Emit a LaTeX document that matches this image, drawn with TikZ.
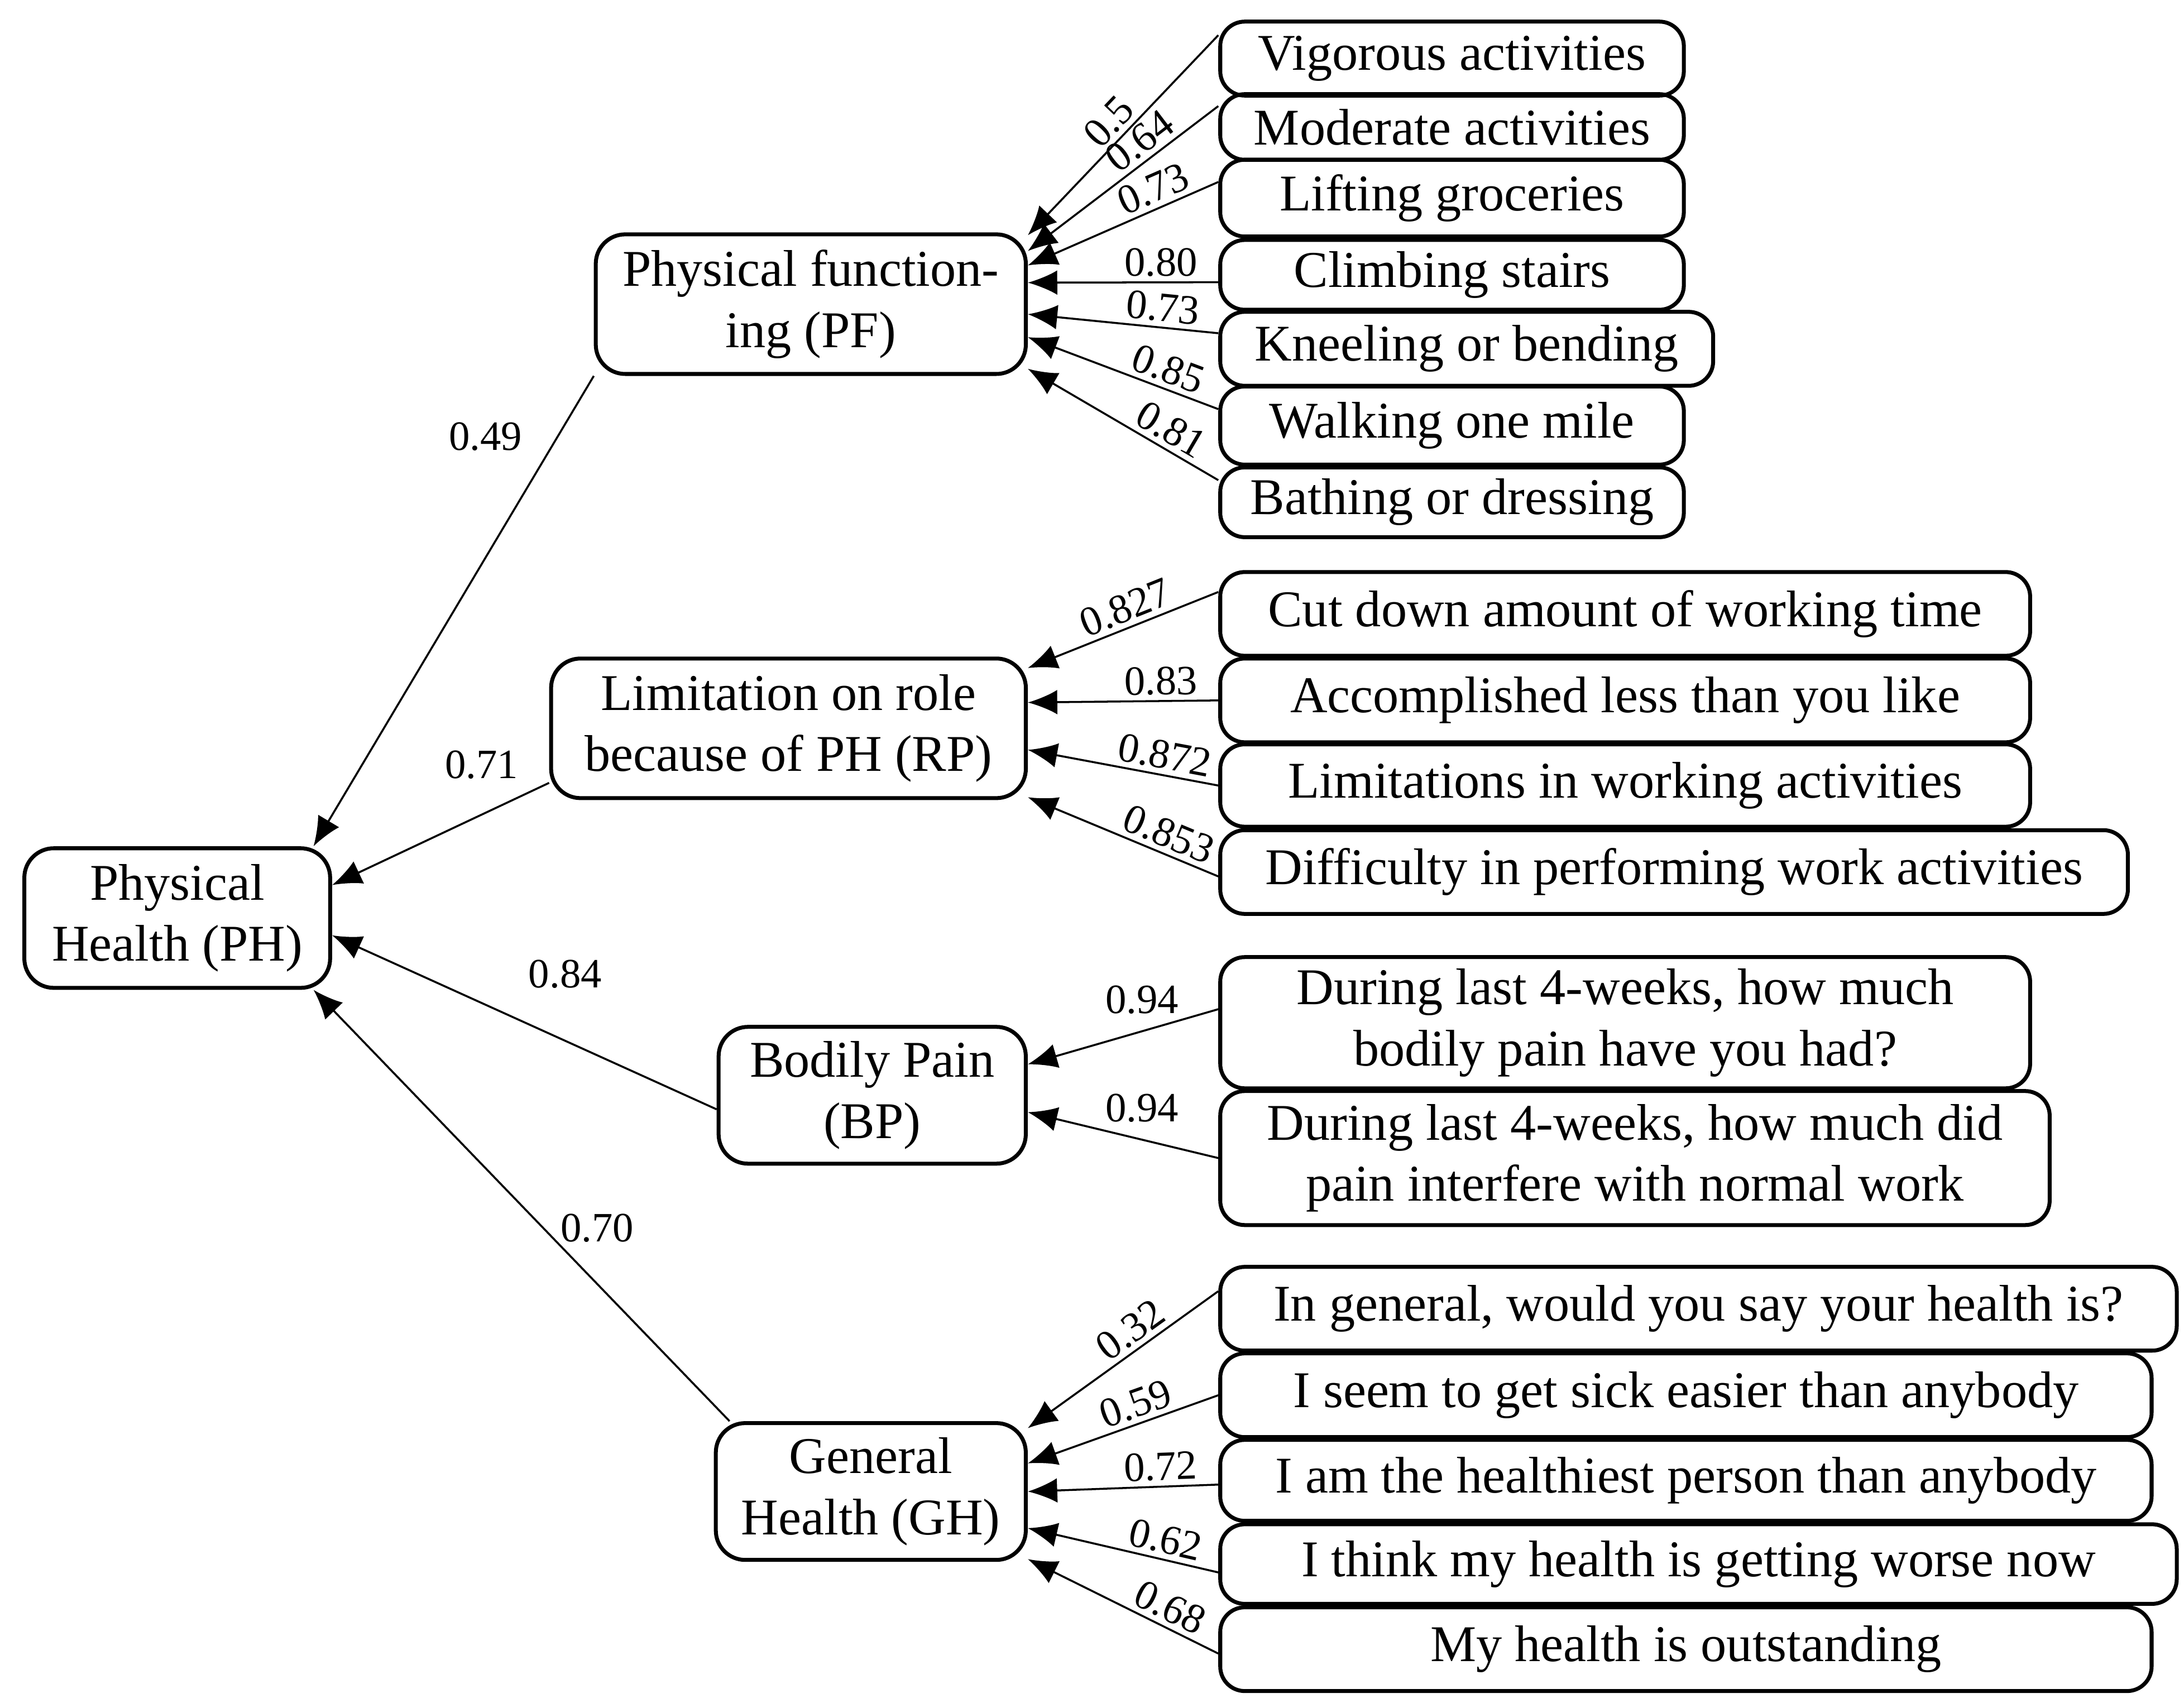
\documentclass[tikz,border=0pt]{standalone}
\usepackage{fontspec}
\setmainfont{Liberation Serif}
\usetikzlibrary{calc,arrows.meta}
\begin{document}
\begin{tikzpicture}[
    x = 0.01cm,
    y = -0.01cm,
    >={Latex[length=6pt,width=5pt]},
    factor/.style = {draw, thick, rounded corners=6pt, align=center,
              font=\fontsize{10.5}{12.5}\selectfont, inner sep=1pt},
    item/.style = {draw, thick, rounded corners=5pt, anchor=west, align=center,
              font=\fontsize{10.5}{12.5}\selectfont, inner sep=1pt},
    load/.style = {font=\fontsize{8.5}{10}\selectfont, sloped, above, inner sep=1pt},
    coef/.style = {font=\fontsize{8.5}{10}\selectfont},
    ]
\useasboundingbox (0,0) rectangle (1565,1224);

% factors
\node[factor, minimum width=2.19cm, minimum height=1cm] (PH) at (127,658) {Physical\\Health (PH)};
\node[factor, minimum width=3.08cm, minimum height=1cm] (PF) at (581,218) {Physical function-\\ing (PF)};
\node[factor, minimum width=3.4cm, minimum height=1cm] (RP) at (565,522) {Limitation on role\\because of PH (RP)};
\node[factor, minimum width=2.2cm, minimum height=0.98cm] (BP) at (625,785) {Bodily Pain\\(BP)};
\node[factor, minimum width=2.22cm, minimum height=0.98cm] (GH) at (624,1069) {General\\Health (GH)};

% items
\node[item, minimum width=3.32cm, minimum height=0.53cm] (pf1) at (873,42) {Vigorous activities};
\node[item, minimum width=3.32cm, minimum height=0.47cm] (pf2) at (873,91) {Moderate activities};
\node[item, minimum width=3.32cm, minimum height=0.55cm] (pf3) at (873,142) {Lifting groceries};
\node[item, minimum width=3.32cm, minimum height=0.5cm] (pf4) at (873,197) {Climbing stairs};
\node[item, minimum width=3.53cm, minimum height=0.53cm] (pf5) at (873,250) {Kneeling or bending};
\node[item, minimum width=3.32cm, minimum height=0.56cm] (pf6) at (873,305) {Walking one mile};
\node[item, minimum width=3.32cm, minimum height=0.5cm] (pf7) at (873,360) {Bathing or dressing};

\node[item, minimum width=5.8cm, minimum height=0.6cm] (rp1) at (873,440) {Cut down amount of working time};
\node[item, minimum width=5.8cm, minimum height=0.6cm] (rp2) at (873,502) {Accomplished less than you like};
\node[item, minimum width=5.8cm, minimum height=0.59cm] (rp3) at (873,563) {Limitations in working activities};
\node[item, minimum width=6.5cm, minimum height=0.6cm] (rp4) at (873,625) {Difficulty in performing work activities};

\node[item, minimum width=5.8cm, minimum height=0.94cm] (bp1) at (873,733) {During last 4-weeks, how much\\bodily pain have you had?};
\node[item, minimum width=5.94cm, minimum height=0.96cm] (bp2) at (873,830) {During last 4-weeks, how much did\\pain interfere with normal work};

\node[item, minimum width=6.85cm, minimum height=0.6cm] (gh1) at (873,938) {In general, would you say your health is?};
\node[item, minimum width=6.67cm, minimum height=0.6cm] (gh2) at (873,1000) {I seem to get sick easier than anybody};
\node[item, minimum width=6.67cm, minimum height=0.58cm] (gh3) at (873,1061) {I am the healthiest person than anybody};
\node[item, minimum width=6.85cm, minimum height=0.57cm] (gh4) at (873,1121) {I think my health is getting worse now};
\node[item, minimum width=6.67cm, minimum height=0.6cm] (gh5) at (873,1182) {My health is outstanding};

% second order
\draw[->] (PF.south west) -- ($(PH.north east)!0.06!(PH.north west)$);
\draw[->] ($(RP.north west)!0.88!(RP.south west)$) -- ($(PH.north east)!0.27!(PH.south east)$);
\draw[->] ($(BP.north west)!0.6!(BP.south west)$) -- ($(PH.north east)!0.62!(PH.south east)$);
\draw[->] ($(GH.north west)!0.05!(GH.north east)$) -- ($(PH.south east)!0.06!(PH.south west)$);
\node[coef] (c1) at (348,313) {0.49};
\node[coef] (c2) at (345,548) {0.71};
\node[coef] (c3) at (405,698) {0.84};
\node[coef] (c4) at (428,880) {0.70};

% physical functioning
\draw[->] ($(pf1.north west)!0.2!(pf1.south west)$) -- node[load, pos=0.5] {0.5} ($(PF.north east)!0.02!(PF.south east)$);
\draw[->] ($(pf2.north west)!0.2!(pf2.south west)$) -- node[load, pos=0.35] {0.64} ($(PF.north east)!0.13!(PF.south east)$);
\draw[->] ($(pf3.north west)!0.3!(pf3.south west)$) -- node[load, pos=0.3] {0.73} ($(PF.north east)!0.23!(PF.south east)$);
\draw[->] ($(pf4.north west)!0.6!(pf4.south west)$) -- node[load, pos=0.3] {0.80} ($(PF.north east)!0.35!(PF.south east)$);
\draw[->] ($(pf5.north west)!0.3!(pf5.south west)$) -- node[load, pos=0.3] {0.73} ($(PF.north east)!0.57!(PF.south east)$);
\draw[->] ($(pf6.north west)!0.3!(pf6.south west)$) -- node[load, pos=0.3] {0.85} ($(PF.north east)!0.73!(PF.south east)$);
\draw[->] ($(pf7.north west)!0.2!(pf7.south west)$) -- node[load, pos=0.3] {0.81} ($(PF.north east)!0.95!(PF.south east)$);

% role physical
\draw[->] ($(rp1.north west)!0.25!(rp1.south west)$) -- node[load, pos=0.45] {0.827} ($(RP.north east)!0.08!(RP.south east)$);
\draw[->] ($(rp2.north west)!0.5!(rp2.south west)$) -- node[load, pos=0.3] {0.83} ($(RP.north east)!0.32!(RP.south east)$);
\draw[->] ($(rp3.north west)!0.5!(rp3.south west)$) -- node[load, pos=0.3] {0.872} ($(RP.north east)!0.65!(RP.south east)$);
\draw[->] ($(rp4.north west)!0.55!(rp4.south west)$) -- node[load, pos=0.3] {0.853} ($(RP.north east)!0.98!(RP.south east)$);

% bodily pain
\draw[->] ($(bp1.north west)!0.4!(bp1.south west)$) -- node[coef, above, pos=0.4] {0.94} ($(BP.north east)!0.28!(BP.south east)$);
\draw[->] ($(bp2.north west)!0.5!(bp2.south west)$) -- node[coef, above, pos=0.4] {0.94} ($(BP.north east)!0.62!(BP.south east)$);

% general health
\draw[->] ($(gh1.north west)!0.3!(gh1.south west)$) -- node[load, pos=0.4] {0.32} ($(GH.north east)!0.05!(GH.south east)$);
\draw[->] ($(gh2.north west)!0.5!(gh2.south west)$) -- node[load, pos=0.4] {0.59} ($(GH.north east)!0.3!(GH.south east)$);
\draw[->] ($(gh3.north west)!0.55!(gh3.south west)$) -- node[load, pos=0.3] {0.72} ($(GH.north east)!0.5!(GH.south east)$);
\draw[->] ($(gh4.north west)!0.6!(gh4.south west)$) -- node[load, pos=0.3] {0.62} ($(GH.north east)!0.76!(GH.south east)$);
\draw[->] ($(gh5.north west)!0.55!(gh5.south west)$) -- node[load, pos=0.3] {0.68} ($(GH.north east)!0.98!(GH.south east)$);

\end{tikzpicture}
\end{document}
